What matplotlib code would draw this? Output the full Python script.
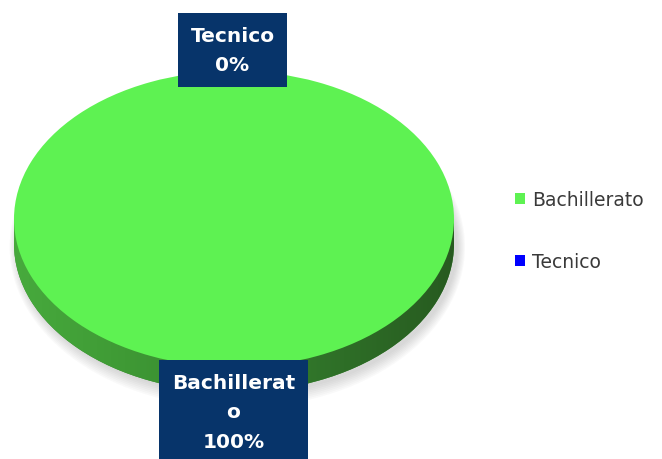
import numpy as np
import matplotlib
matplotlib.use("Agg")
import matplotlib.pyplot as plt
from matplotlib.patches import Rectangle, Ellipse

# Data
categories = ["Bachillerato", "Tecnico"]
values = [100, 0]
top_colors = ["#5ef252", "#0000ff"]

W, H = 662, 460
fig = plt.figure(figsize=(W / 100, H / 100), dpi=100)

# pie axes: x in [-1, 1] -> px 14..454, top ellipse y in [-1, 1] -> px 368..72
depth = 25 / 148.0
ax = fig.add_axes([14 / W, 1 - 393 / H, 440 / W, 321 / H])

# soft shadow under the disc
for k in range(8):
    ax.add_patch(Ellipse((0.015, -depth - 0.02), 2.0 + 0.01 * k, 2.0 + 0.025 * k,
                         facecolor="#7a7a7a", edgecolor="none", alpha=0.04, zorder=0,
                         clip_on=False))

# side band: bottom copy of the pie plus rectangle, shaded with horizontal gradient
side, _ = ax.pie(values, colors=["#3a8a30", "#00008b"], startangle=90, counterclock=False,
                 center=(0, -depth), radius=1.0, wedgeprops=dict(edgecolor="none"))
band = Rectangle((-0.999, -depth), 1.998, depth, facecolor="#3a8a30", edgecolor="none", zorder=1)
ax.add_patch(band)
grad = np.linspace(0, 1, 256).reshape(1, -1)
cmap = matplotlib.colors.LinearSegmentedColormap.from_list(
    "side", ["#47aa3d", "#3f9a35", "#368530", "#2e6e27", "#275a20"])
for clip in [side[0], band]:
    im = ax.imshow(grad, cmap=cmap, extent=[-1, 1, -1 - depth, 1], aspect="auto",
                   interpolation="bilinear", zorder=1.5)
    im.set_clip_path(clip)

# top face
wedges, _ = ax.pie(values, colors=top_colors, startangle=90, counterclock=False,
                   radius=1.0, wedgeprops=dict(edgecolor="none"))
for w in wedges:
    w.set_zorder(3)

ax.set_aspect("auto")
ax.set_xlim(-1, 1)
ax.set_ylim(-1 - depth, 1)
ax.axis("off")

# data labels
total = sum(values)
label_pos = {"Tecnico": (232.5, 51), "Bachillerato": (233.5, 413)}
for name, v in zip(categories, values):
    pct = "{:.0f}%".format(v / total * 100)
    shown = "Bachillerat\no" if name == "Bachillerato" else name
    x, y = label_pos[name]
    fig.text(x / W, 1 - y / H, shown + "\n" + pct, ha="center", va="center",
             color="white", fontsize=14.5, fontweight="bold", linespacing=1.72,
             family="DejaVu Sans", zorder=10,
             bbox=dict(boxstyle="square,pad=0.62", facecolor="#07346a", edgecolor="none"))

# legend
fig.legend(wedges, categories, loc="center left", bbox_to_anchor=(515 / W, 1 - 231.5 / H),
           frameon=False, fontsize=13.5, handlelength=0.55, handleheight=0.55,
           handletextpad=0.35, labelspacing=2.3, borderpad=0, borderaxespad=0,
           labelcolor="#3a3a3a")

fig.savefig("out.png", dpi=100)
